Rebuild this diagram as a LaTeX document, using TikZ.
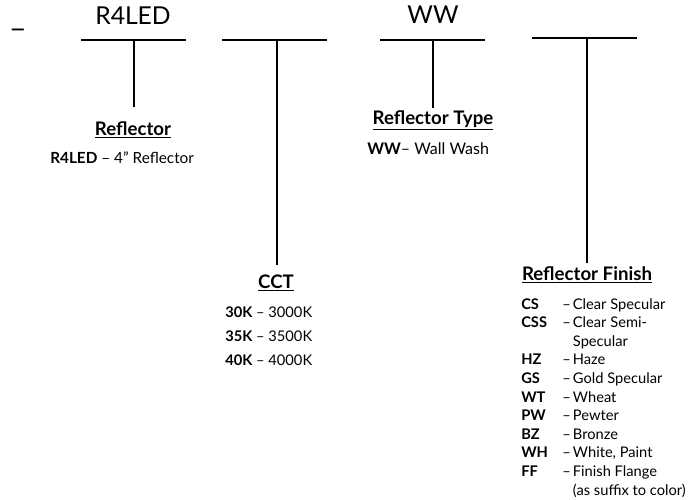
\documentclass[tikz,border=0pt]{standalone}
\usepackage{fontspec}
\setmainfont{Lato}
\usepackage{xcolor}
\usepackage{tikz}
\usetikzlibrary{positioning,calc}

\tikzset{
  codetext/.style={inner sep=0pt, font=\fontsize{18.5}{20}\selectfont},
  fieldhead/.style={inner sep=0pt, anchor=base, font=\bfseries\fontsize{14}{16}\selectfont},
  optlist/.style={inner sep=0pt, anchor=base west, font=\fontsize{11}{13}\selectfont},
  blankline/.style={line width=0.8pt, black},
}

\begin{document}
\begin{tikzpicture}[x=0.75pt, y=-0.75pt]
    \useasboundingbox (0,0) rectangle (698,499);

    % order code row
    \node[codetext, anchor=base, font=\fontsize{23}{24}\selectfont] (lead) at (18,27) {\_};
    \node[codetext, anchor=base] (reflcode) at (133,25) {R4LED};
    \node[codetext, anchor=base] (typecode) at (433,24) {WW};

    % blanks with their stems
    \coordinate (b1l) at (81,40);  \coordinate (b1r) at (186,40);  \coordinate (b1m) at (134,40);  \coordinate (s1) at (134,107);
    \coordinate (b2l) at (222,40); \coordinate (b2r) at (327,40);  \coordinate (b2m) at (277,40);  \coordinate (s2) at (277,265);
    \coordinate (b3l) at (380,40); \coordinate (b3r) at (485,40);  \coordinate (b3m) at (433,40);  \coordinate (s3) at (433,108);
    \coordinate (b4l) at (532,38); \coordinate (b4r) at (637,38);  \coordinate (b4m) at (587,38);  \coordinate (s4) at (587,263);
    \draw[blankline] (b1l) -- (b1r) (b1m) -- (s1);
    \draw[blankline] (b2l) -- (b2r) (b2m) -- (s2);
    \draw[blankline] (b3l) -- (b3r) (b3m) -- (s3);
    \draw[blankline] (b4l) -- (b4r) (b4m) -- (s4);

    % Reflector
    \node[fieldhead] (reflhead) at (133,135) {\underline{Reflector}};
    \node[optlist, font=\fontsize{11.5}{13}\selectfont] (refllist) at (50,163) {\textbf{R4LED} – 4" Reflector};

    % CCT
    \node[fieldhead] (ccthead) at (276,288) {\underline{CCT}};
    \node[optlist] (cctlist) at (225,317) {\fontsize{11}{18}\selectfont
      \begin{tabular}[t]{@{}l@{}}
        \textbf{30K} – 3000K\\
        \textbf{35K} – 3500K\\
        \textbf{40K} – 4000K
      \end{tabular}};

    % Reflector Type
    \node[fieldhead] (typehead) at (433,124) {\underline{Reflector Type}};
    \node[optlist, font=\fontsize{12}{14}\selectfont] (typelist) at (367,154) {\textbf{WW}– Wall Wash};

    % Reflector Finish
    \node[fieldhead] (finhead) at (587,280) {\underline{Reflector Finish}};
    \node[optlist] (finlist) at (521,309) {\fontsize{11}{13.95}\selectfont
      \begin{tabular}[t]{@{}p{30.75pt}@{}p{8pt}@{}l@{}}
        \textbf{CS} & – & Clear Specular\\
        \textbf{CSS} & – & Clear Semi-\\
         & & Specular\\
        \textbf{HZ} & – & Haze\\
        \textbf{GS} & – & Gold Specular\\
        \textbf{WT} & – & Wheat\\
        \textbf{PW} & – & Pewter\\
        \textbf{BZ} & – & Bronze\\
        \textbf{WH} & – & White, Paint\\
        \textbf{FF} & – & Finish Flange\\
         & & (as suffix to color)
      \end{tabular}};
\end{tikzpicture}
\end{document}
